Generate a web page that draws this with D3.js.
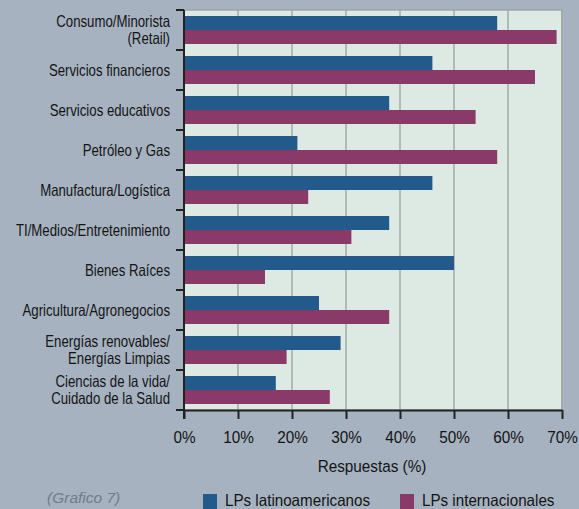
<!DOCTYPE html>
<html>
<head>
<meta charset="utf-8">
<script src="https://cdn.jsdelivr.net/npm/d3@7"></script>
<style>
  body { margin: 0; background: #a6b2bf; }
  svg { display: block; }
  .cat { font-family: "Liberation Sans", sans-serif; font-size: 16.5px; fill: #141414; }
  .tick text { font-family: "Liberation Sans", sans-serif; font-size: 17px; fill: #141414; }
</style>
</head>
<body>
<div id="chart"></div>
<script>
// categories (top to bottom), line breaks with \n
var categories = [
  "Consumo/Minorista\n(Retail)",
  "Servicios financieros",
  "Servicios educativos",
  "Petróleo y Gas",
  "Manufactura/Logística",
  "TI/Medios/Entretenimiento",
  "Bienes Raíces",
  "Agricultura/Agronegocios",
  "Energías renovables/\nEnergías Limpias",
  "Ciencias de la vida/\nCuidado de la Salud"
];
var latinValues = [58, 46, 38, 21, 46, 38, 50, 25, 29, 17];
var intlValues  = [69, 65, 54, 58, 23, 31, 15, 38, 19, 27];
var seriesNames = ["LPs latinoamericanos", "LPs internacionales"];
var xTicks = [0, 10, 20, 30, 40, 50, 60, 70];

var colors = { latin: "#235a8c", intl: "#8a3a68" };

var W = 579, H = 509;
var margin = { top: 10, right: 17, bottom: 99, left: 184 };
var width = W - margin.left - margin.right;
var height = H - margin.top - margin.bottom;

var svg = d3.select("#chart").append("svg")
  .attr("width", W)
  .attr("height", H);

svg.append("rect").attr("width", W).attr("height", H).attr("fill", "#a6b2bf");

var g = svg.append("g")
  .attr("transform", "translate(" + margin.left + "," + margin.top + ")");

var x = d3.scaleLinear().domain([0, 70]).range([0, width]);
var y = d3.scaleBand().domain(categories).range([0, height]).padding(0);
var ySub = d3.scaleBand().domain(["latin", "intl"]).range([0, y.bandwidth()])
  .paddingInner(0).paddingOuter(0.43);

// plot background
g.append("rect")
  .attr("x", 0).attr("y", 0)
  .attr("width", width).attr("height", height)
  .attr("fill", "#ddeae3")
  .attr("stroke", "#9fa7a4")
  .attr("stroke-width", 1.5);

// vertical grid
g.selectAll(".grid").data(xTicks.slice(1))
  .enter().append("line")
  .attr("class", "grid")
  .attr("x1", function(d) { return x(d); })
  .attr("x2", function(d) { return x(d); })
  .attr("y1", 0).attr("y2", height)
  .attr("stroke", "#a3aaa7")
  .attr("stroke-width", function(d) { return d == 70 ? 2 : 1.5; });

// bars
var rows = categories.map(function(c, i) {
  return { cat: c, latin: latinValues[i], intl: intlValues[i] };
});
var rowG = g.selectAll(".row").data(rows)
  .enter().append("g")
  .attr("transform", function(d) { return "translate(0," + y(d.cat) + ")"; });

["latin", "intl"].forEach(function(k) {
  rowG.append("rect")
    .attr("x", x(0))
    .attr("y", ySub(k))
    .attr("width", function(d) { return x(d[k]) - x(0); })
    .attr("height", ySub.bandwidth())
    .attr("fill", colors[k]);
});

// x axis
var xAxis = g.append("g")
  .attr("transform", "translate(0," + height + ")")
  .call(d3.axisBottom(x).tickValues(xTicks).tickFormat(function(d) { return d + "%"; })
    .tickSize(9).tickSizeOuter(0).tickPadding(12));
xAxis.select(".domain").attr("stroke", "#222").attr("stroke-width", 2);
xAxis.selectAll(".tick line").attr("stroke", "#222").attr("stroke-width", 2);
xAxis.selectAll(".tick text").attr("transform", "scale(0.9,1)");

// y axis: ticks at band boundaries
var boundaries = categories.map(function(c) { return y(c); }).concat([height]);
g.append("line")
  .attr("x1", 0).attr("x2", 0).attr("y1", 0).attr("y2", height + 9)
  .attr("stroke", "#222").attr("stroke-width", 2);
g.selectAll(".ytick").data(boundaries)
  .enter().append("line")
  .attr("x1", -8).attr("x2", 0)
  .attr("y1", function(d) { return d; }).attr("y2", function(d) { return d; })
  .attr("stroke", "#222").attr("stroke-width", 2);

// category labels (narrowed, the original uses a condensed face)
var catG = g.append("g").attr("transform", "translate(-14,0) scale(0.8,1)");
catG.selectAll(".cat").data(categories)
  .enter().append("text")
  .attr("class", "cat")
  .attr("text-anchor", "end")
  .each(function(d) {
    var lines = d.split("\n");
    var t = d3.select(this);
    var cy = y(d) + y.bandwidth() / 2;
    lines.forEach(function(l, i) {
      t.append("tspan")
        .attr("x", 0)
        .attr("y", cy + (i - (lines.length - 1) / 2) * 17)
        .attr("dy", "0.36em")
        .text(l);
    });
  });

// axis title
svg.append("text")
  .attr("transform", "translate(" + (margin.left + width / 2 - 1) + "," + (H - 37) + ") scale(0.9,1)")
  .attr("text-anchor", "middle")
  .style("font-family", "Liberation Sans, sans-serif")
  .style("font-size", "17px")
  .attr("fill", "#141414")
  .text("Respuestas (%)");

// source note
svg.append("text")
  .attr("x", 47)
  .attr("y", H - 6)
  .style("font-family", "Liberation Sans, sans-serif")
  .style("font-size", "15.5px")
  .style("font-style", "italic")
  .attr("fill", "#717d8a")
  .text("(Grafico 7)");

// legend
var legendX = [203, 400];
var legend = svg.selectAll(".legend").data(seriesNames)
  .enter().append("g")
  .attr("transform", function(d, i) { return "translate(" + legendX[i] + "," + (H - 15) + ")"; });
legend.append("rect")
  .attr("width", 14).attr("height", 15)
  .attr("fill", function(d, i) { return i == 0 ? colors.latin : colors.intl; });
legend.append("text")
  .attr("transform", "translate(22,11.5) scale(0.92,1)")
  .style("font-family", "Liberation Sans, sans-serif")
  .style("font-size", "16.5px")
  .attr("fill", "#141414")
  .text(function(d) { return d; });
</script>
</body>
</html>
